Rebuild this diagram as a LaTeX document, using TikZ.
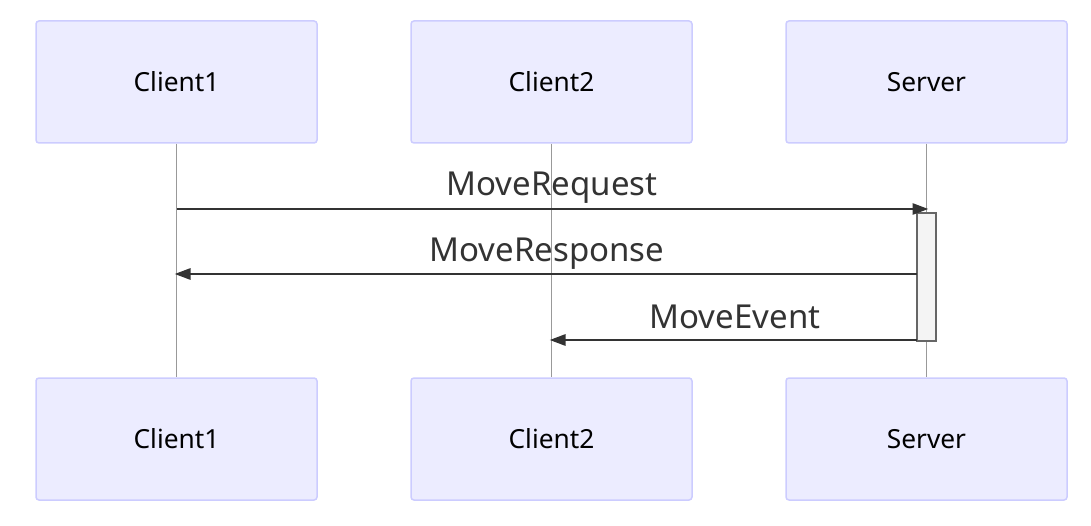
\documentclass[tikz,border=0pt]{standalone}
\usepackage{fontspec}
\setmainfont{Noto Sans}
\usetikzlibrary{arrows.meta}
\definecolor{boxfill}{HTML}{ECECFF}
\definecolor{boxline}{HTML}{CCCCFF}
\definecolor{txt}{HTML}{333333}
\definecolor{lifeline}{HTML}{999999}
\definecolor{actfill}{HTML}{F4F4F4}
\definecolor{actline}{HTML}{666666}
\tikzset{
  actor/.style={draw=boxline, fill=boxfill, line width=1.5pt, rounded corners=3pt,
    minimum width=281pt, minimum height=122pt, inner sep=0pt,
    font=\fontsize{26.3}{30}\selectfont, text=black},
  life/.style={draw=lifeline, line width=1pt},
  msg/.style={draw=txt, line width=2.8pt, -{Triangle[length=16pt,width=11pt]}},
  msglabel/.style={font=\fontsize{33}{38}\selectfont, text=txt, anchor=base, inner sep=0pt},
  act/.style={draw=actline, fill=actfill, line width=1.5pt}
}
\begin{document}
\begin{tikzpicture}[x=1pt,y=-1pt]
\useasboundingbox (0,0) rectangle (1091,526);
\node[actor] (c1t) at (176.5,82) {Client1};
\node[actor] (c2t) at (551.5,82) {Client2};
\node[actor] (svt) at (926.5,82) {Server};
\node[actor] (c1b) at (176.5,439) {Client1};
\node[actor] (c2b) at (551.5,439) {Client2};
\node[actor] (svb) at (926.5,439) {Server};
\draw[life] (c1t.south) -- (c1b.north);
\draw[life] (c2t.south) -- (c2b.north);
\draw[life] (svt.south) -- (svb.north);
% activation
\coordinate (acttop) at (917,213);
\coordinate (actbot) at (936,341);
\draw[act] (acttop) rectangle (actbot);
% message endpoints
\coordinate (r1s) at (176.5,209);
\coordinate (r1e) at (928.5,209);
\coordinate (r2s) at (917,274);
\coordinate (r2e) at (174.5,274);
\coordinate (r3s) at (917,340);
\coordinate (r3e) at (549.5,340);
\draw[msg] (r1s) -- (r1e);
\draw[msg] (r2s) -- (r2e);
\draw[msg] (r3s) -- (r3e);
\node[msglabel] (l1) at (552,196) {MoveRequest};
\node[msglabel] (l2) at (547,262) {MoveResponse};
\node[msglabel] (l3) at (735,328) {MoveEvent};
\end{tikzpicture}
\end{document}
